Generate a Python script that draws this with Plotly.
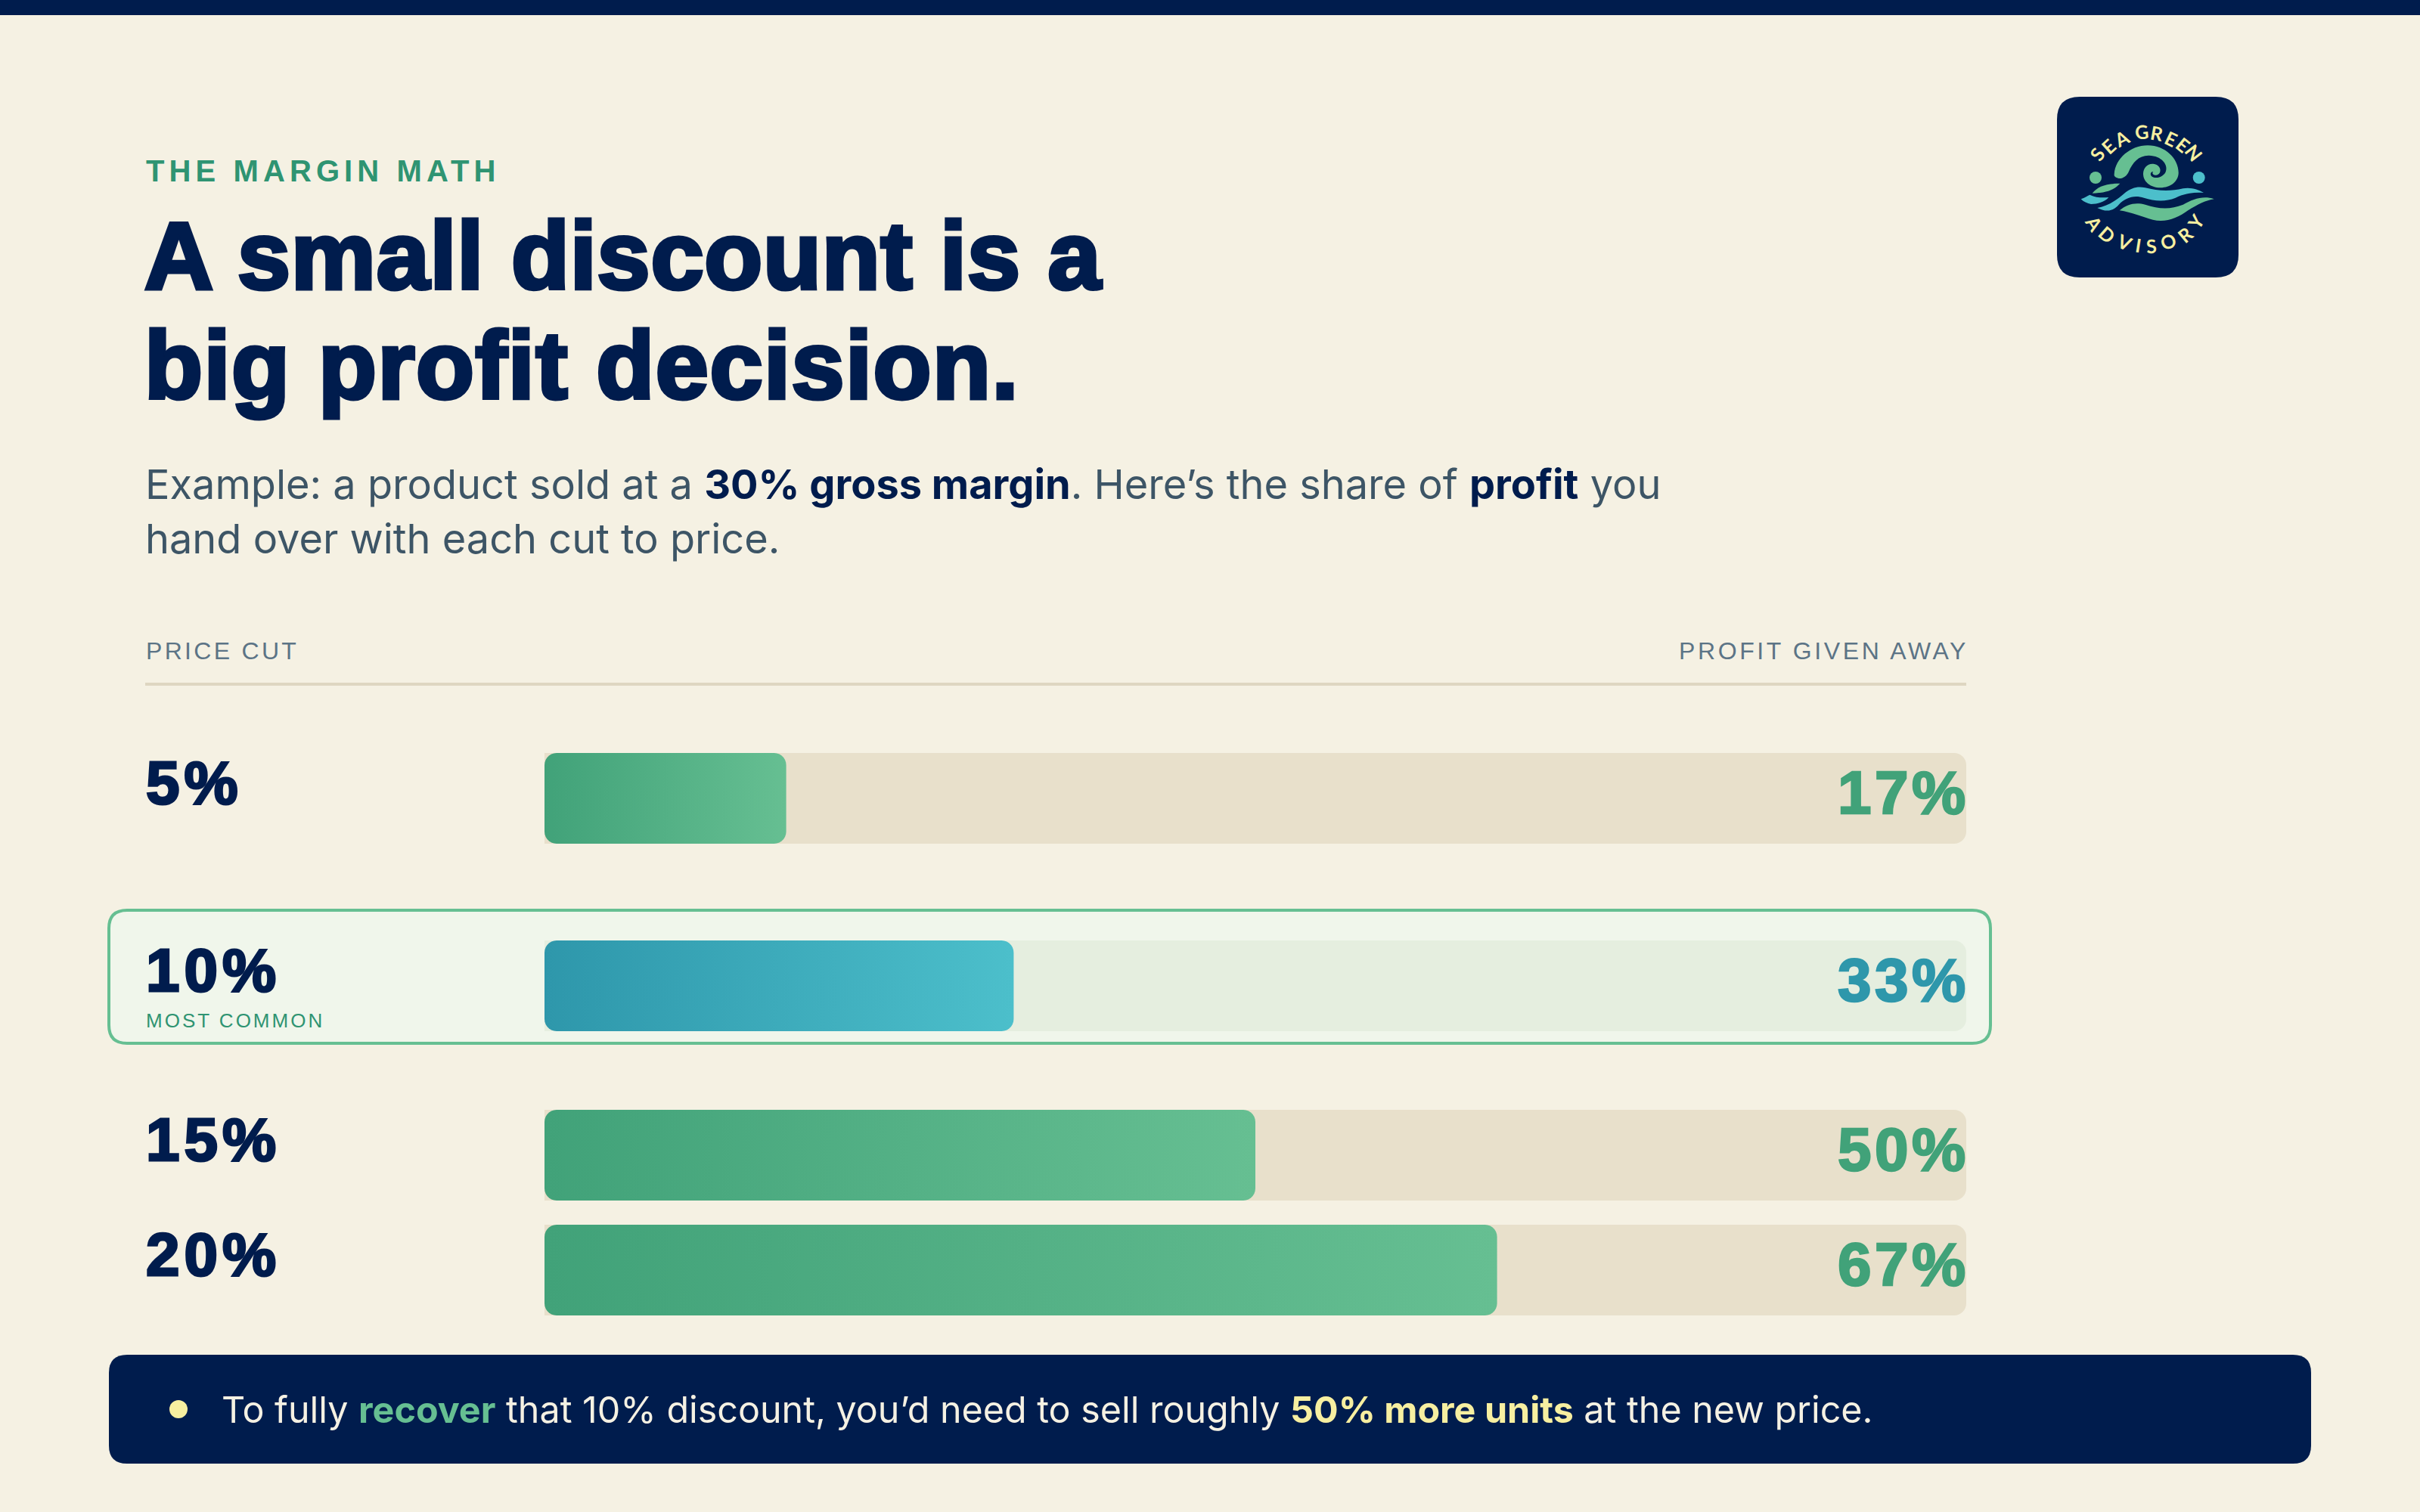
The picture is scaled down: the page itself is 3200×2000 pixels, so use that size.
import math
import re
import numpy as np
import plotly.graph_objects as go

# Chart data
price_cuts = ['5%', '10%', '15%', '20%']
profit_given = [17, 33, 50, 67]
highlight_cut = '10%'

# Colours
bg_color = '#F5F1E3'
navy = '#001C4D'
green_dark = '#41A279'
green_light = '#66BF92'
teal_dark = '#2E97AB'
teal_light = '#4CBFCB'
track_color = '#E8E0CB'
track_highlight = '#E5EEDF'
box_fill = '#F0F6EB'
rule_color = '#DED6C1'
yellow = '#F7EFA0'
body_color = '#3D5566'
label_color = '#5C7486'
kicker_color = '#2F9472'
head_font = 'Liberation Sans'
body_font = 'Inter'

# Layout, in page pixels
page_w, page_h = 3200, 2000
track_left, track_right = 720, 2600
row_centers = [1056, 1304, 1528, 1680]
bar_height = 120
bar_radius = 16

fig = go.Figure()
shapes = []
annotations = []


def round_rect(x0, y0, x1, y1, r):
    return (f'M {x0+r},{y0} L {x1-r},{y0} Q {x1},{y0} {x1},{y0+r} L {x1},{y1-r} Q {x1},{y1} {x1-r},{y1} '
            f'L {x0+r},{y1} Q {x0},{y1} {x0},{y1-r} L {x0},{y0+r} Q {x0},{y0} {x0+r},{y0} Z')


def add_path(path, fill, line=None, width=0, layer='above'):
    shapes.append(dict(type='path', xref='x', yref='y', path=path, fillcolor=fill, layer=layer,
                       line=dict(color=line or fill, width=width)))


def add_text(x, baseline, text, size, color, family=body_font, anchor='left', xref='x', nudge=0.24, xshift=0):
    # annotations sit by their box, so drop the box by the font descent to land on the baseline
    annotations.append(dict(x=x, y=baseline + nudge * size, xref=xref, yref='y', text=text, showarrow=False,
                            xanchor=anchor, yanchor='bottom', align=anchor, borderpad=0, xshift=xshift,
                            font=dict(family=family, size=size, color=color)))


def heavy(text, color, spacing, stroke):
    return (f'<b><span style="letter-spacing:{spacing}px;stroke:{color};stroke-width:{stroke}px;'
            f'paint-order:stroke">{text}</span></b>')


def spaced(text, spacing):
    return f'<span style="letter-spacing:{spacing}px">{text}</span>'


def strong(text, color):
    return f'<b><span style="color:{color}">{text}</span></b>'


def bar_outline(value, center):
    # rounded bar polygon; corners are in pixels, converted to axis units
    rx = bar_radius * 100 / (track_right - track_left)
    ry = bar_radius
    top, bottom = center - bar_height / 2, center + bar_height / 2
    t = np.linspace(0, math.pi / 2, 8)
    xs = np.concatenate([rx - rx * np.cos(t), value - rx + rx * np.sin(t),
                         value - rx + rx * np.cos(t), rx - rx * np.sin(t)])
    ys = np.concatenate([top + ry - ry * np.sin(t), top + ry - ry * np.cos(t),
                         bottom - ry + ry * np.sin(t), bottom - ry + ry * np.cos(t)])
    return np.append(xs, xs[0]), np.append(ys, ys[0])


# Page furniture
add_path(f'M 0,0 H {page_w} V 20 H 0 Z', navy)
add_path(f'M 192,903 H {track_right} V 907 H 192 Z', rule_color)
add_path(round_rect(144, 1204, 2632, 1380, 24), box_fill, green_light, 4, layer='below')
add_path(round_rect(144, 1792, 3056, 1936, 24), navy)

# Empty trace keeps the pixel subplot alive for the shapes
fig.add_trace(go.Scatter(x=[None], y=[None], mode='none', showlegend=False, hoverinfo='skip'))

# Tracks
fig.add_trace(go.Bar(
    y=row_centers,
    x=[100] * len(price_cuts),
    xaxis='x2',
    orientation='h',
    width=bar_height,
    marker=dict(
        color=[track_highlight if c == highlight_cut else track_color for c in price_cuts],
        cornerradius=bar_radius,
        line=dict(width=0),
    ),
    showlegend=False,
    hoverinfo='skip',
))

# Gradient fills
for cut, value, center in zip(price_cuts, profit_given, row_centers):
    colors = [teal_dark, teal_light] if cut == highlight_cut else [green_dark, green_light]
    xs, ys = bar_outline(value, center)
    fig.add_trace(go.Scatter(
        x=xs,
        y=ys,
        xaxis='x2',
        mode='none',
        fill='toself',
        fillgradient=dict(type='horizontal', colorscale=[[0, colors[0]], [1, colors[1]]]),
        showlegend=False,
        hoverinfo='skip',
    ))
    add_text(192, center + 6, heavy(cut, navy, 6, 3), 80, navy, head_font)
    value_color = teal_dark if cut == highlight_cut else green_dark
    add_text(100, center + 19, heavy(f'{value}%', value_color, 4.5, 2.5), 80, value_color, head_font, 'right', 'x2',
             xshift=5)

# Titles
add_text(192, 239, '<b>' + spaced('THE MARGIN MATH', 6.1) + '</b>', 40, kicker_color, head_font)
add_text(190, 380, heavy('A small discount is a', navy, 0.8, 5), 126, navy, head_font)
add_text(190, 525, heavy('big profit decision.', navy, 1.5, 5), 126, navy, head_font)
add_text(191, 661, 'Example: a product sold at a ' + strong('30% gross margin', navy) + '. Here’s the share of '
         + strong('profit', navy) + ' you', 54.1, body_color)
add_text(191, 733, 'hand over with each cut to price.', 54.1, body_color)

# Column headers
add_text(192, 872, spaced('PRICE CUT', 3.3), 32, label_color, head_font)
add_text(track_right, 872, spaced('PROFIT GIVEN AWAY', 3.6), 32, label_color, head_font, 'right', xshift=4)
add_text(192, 1360, spaced('MOST COMMON', 3), 26, kicker_color, head_font)

# Callout
shapes.append(dict(type='circle', xref='x', yref='y', x0=224, x1=248, y0=1852, y1=1876,
                   fillcolor=yellow, line=dict(width=0)))
add_text(292, 1883, 'To fully ' + strong('recover', green_light) + ' that 10% discount, you’d need to sell roughly '
         + strong('50% more units', yellow) + ' at the new price.', 48.4, bg_color)

# Logo, traced in a 3x crop that starts at (2760, 180)
logo_x, logo_y, logo_scale = 2760, 180, 3
spiral_path = ('M 107,150 C 112,90 170,37 240,37 C 310,37 362,90 362,145 C 362,180 330,205 290,205 '
               'C 250,205 222,180 222,150 C 222,125 240,108 262,110 C 282,112 295,128 288,145 '
               'C 283,155 270,158 262,152 C 258,149 258,143 262,141 C 253,140 248,150 254,158 '
               'C 264,170 295,168 310,145 C 325,115 295,78 245,77 C 205,76 180,105 165,140 '
               'C 158,158 140,170 125,168 C 112,165 105,160 107,150 Z')
teal_wave_path = ('M 40,285 C 75,280 110,260 150,225 C 175,205 200,198 230,205 C 280,218 330,220 380,208 '
                  'C 410,202 440,212 462,225 C 420,222 385,228 350,245 C 310,262 265,258 225,245 '
                  'C 185,232 150,245 125,272 C 105,295 80,305 40,285 Z')
teal_small_path = ('M -25,250 C -10,245 0,238 10,233 C 35,245 60,245 85,243 C 70,262 40,270 15,270 '
                   'C 0,268 -15,260 -25,250 Z')
leaf_path = 'M 20,227 C 40,200 75,188 130,188 C 110,210 85,225 20,227 Z'
green_wave_path = ('M 128,295 C 160,270 190,262 230,272 C 285,290 330,292 380,272 C 420,250 460,235 503,250 '
                   'C 470,255 440,270 400,295 C 360,325 310,345 260,332 C 220,322 175,302 128,295 Z')
letters_top = list('SEAGREEN')
letters_bottom = list('ADVISORY')
letters_top_x = [40, 85, 135, 215, 277, 332, 380, 425]
letters_top_y = [70, 40, 10, -18, -12, 8, 32, 65]
letters_bottom_x = [28, 80, 148, 202, 255, 320, 388, 430]
letters_bottom_y = [345, 390, 420, 432, 435, 418, 390, 338]
logo_center = (237, 210)


def logo_path(path):
    nums = iter(re.findall(r'[A-Z]|-?\d+', path))
    out = []
    for token in nums:
        if token.isalpha():
            out.append(token)
        else:
            out.append(f'{logo_x + int(token) / logo_scale:.1f},{logo_y + int(next(nums)) / logo_scale:.1f}')
    return ' '.join(out)


add_path(round_rect(2720, 128, 2960, 367, 30), navy)
add_path(logo_path(spiral_path), green_light)
add_path(logo_path(teal_wave_path), teal_light)
add_path(logo_path(teal_small_path), teal_light)
add_path(logo_path(leaf_path), green_light)
add_path(logo_path(green_wave_path), green_light)
for cx, color in [(33, green_light), (443, teal_light)]:
    shapes.append(dict(type='circle', xref='x', yref='y', fillcolor=color, line=dict(width=0),
                       x0=logo_x + (cx - 24) / logo_scale, x1=logo_x + (cx + 24) / logo_scale,
                       y0=logo_y + 141 / logo_scale, y1=logo_y + 189 / logo_scale))
for chars, xs, ys, flip in [(letters_top, letters_top_x, letters_top_y, False),
                            (letters_bottom, letters_bottom_x, letters_bottom_y, True)]:
    for ch, lx, ly in zip(chars, xs, ys):
        dx, dy = lx - logo_center[0], ly - logo_center[1]
        angle = math.degrees(math.atan2(-dx, dy)) if flip else math.degrees(math.atan2(dx, -dy))
        annotations.append(dict(x=logo_x + lx / logo_scale, y=logo_y + ly / logo_scale, xref='x', yref='y',
                                text=f'<b>{ch}</b>', showarrow=False, textangle=angle,
                                font=dict(family='Lato', size=25, color=yellow)))

fig.update_layout(
    width=page_w,
    height=page_h,
    margin=dict(l=0, r=0, t=0, b=0),
    paper_bgcolor=bg_color,
    plot_bgcolor='rgba(0,0,0,0)',
    barmode='overlay',
    showlegend=False,
    xaxis=dict(domain=[0, 1], range=[0, page_w], anchor='y', visible=False),
    xaxis2=dict(domain=[track_left / page_w, track_right / page_w], range=[0, 100], anchor='y', visible=False),
    yaxis=dict(domain=[0, 1], range=[page_h, 0], visible=False),
    shapes=shapes,
    annotations=annotations,
)

fig.write_html(
    'out.html',
    config=dict(displayModeBar=False),
    post_script="document.body.style.margin='0';document.documentElement.style.overflow='hidden';",
)
